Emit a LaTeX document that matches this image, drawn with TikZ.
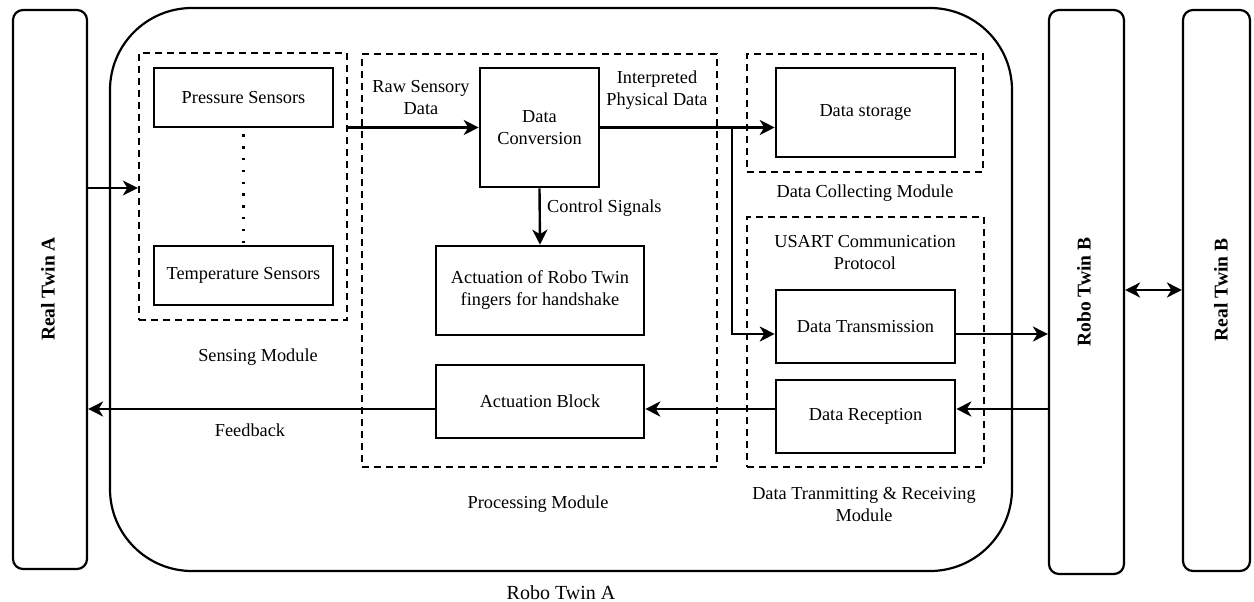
\documentclass[tikz,border=0pt]{standalone}
\usepackage{fontspec}
\setmainfont{Liberation Serif}
\usetikzlibrary{arrows.meta,calc}
\begin{document}
\begin{tikzpicture}[x=1pt,y=-1pt,
  txt/.style={font=\fontsize{18.3}{22}\selectfont, align=center, inner sep=0pt},
  bigtxt/.style={font=\fontsize{20}{24}\selectfont, inner sep=0pt},
  sidetxt/.style={font=\bfseries\fontsize{19.5}{23}\selectfont, rotate=90, inner sep=0pt},
  blk/.style={draw, line width=2.6pt, minimum width=179pt, inner sep=0pt, txt},
  side/.style={draw, line width=2.2pt, rounded corners=10pt, inner sep=0pt},
  module/.style={draw, line width=2.3pt, dash pattern=on 7pt off 5pt},
  tip/.style={},
  arr/.style={line width=2.4pt, -{Stealth[length=15pt,width=15pt,inset=4.5pt]}},
  darr/.style={line width=2.4pt, {Stealth[length=15pt,width=15pt,inset=4.5pt]}-{Stealth[length=15pt,width=15pt,inset=4.5pt]}}
]
\useasboundingbox (0,0) rectangle (1254,602);

% outer frames
\node[side, minimum width=74pt, minimum height=559pt] (realA) at (50,289.5) {};
\node[draw, line width=2.2pt, rounded corners=82pt, minimum width=902pt, minimum height=563pt, inner sep=0pt] (roboA) at (561,289.5) {};
\node[side, minimum width=75pt, minimum height=564pt] (roboB) at (1086.5,292) {};
\node[side, minimum width=67pt, minimum height=561pt] (realB) at (1216.5,290.5) {};

\node[sidetxt] (realAlab) at (48,289) {Real Twin A};
\node[sidetxt] (roboBlab) at (1084,292) {Robo Twin B};
\node[sidetxt] (realBlab) at (1221,290) {Real Twin B};
\node[bigtxt] (roboAlab) at (561,593) {Robo Twin A};

% module frames
\node[module, minimum width=208pt, minimum height=267pt, inner sep=0pt] (sensing) at (243,186.5) {};
\node[module, minimum width=355pt, minimum height=413pt, inner sep=0pt] (processing) at (539.5,260.5) {};
\node[module, minimum width=236pt, minimum height=118pt, inner sep=0pt] (collecting) at (865,113) {};
\node[module, minimum width=237pt, minimum height=250pt, inner sep=0pt] (transrec) at (865.5,342) {};

% blocks
\node[blk, minimum height=59pt] (pressure) at (243.5,97.5) {Pressure Sensors};
\node[blk, minimum height=59pt] (temp) at (243.5,275.5) {Temperature Sensors};
\node[blk, minimum width=119pt, minimum height=119pt] (conv) at (539.5,127.5) {Data\\Conversion};
\node[blk, minimum width=208pt, minimum height=89pt] (act) at (540,290.5) {Actuation of Robo Twin\\fingers for handshake};
\node[blk, minimum width=208pt, minimum height=73pt] (actblock) at (540,401.5) {Actuation Block};
\node[blk, minimum height=89pt] (storage) at (865.5,112.5) {Data storage};
\node[blk, minimum height=73pt] (trans) at (865.5,326.5) {Data Transmission};
\node[blk, minimum height=73pt] (recep) at (865.5,416.5) {Data Reception};

% labels
\node[txt] (rawlab) at (421,98) {Raw Sensory\\Data};
\node[txt] (interplab) at (657,90) {Interpreted\\Physical Data};
\node[txt, anchor=west] (ctrllab) at (547,208) {Control Signals};
\node[txt] (senslab) at (258,357) {Sensing Module};
\node[txt] (fblab) at (250,430) {Feedback};
\node[txt] (proclab) at (538,504) {Processing Module};
\node[txt] (colllab) at (865,193) {Data Collecting Module};
\node[txt] (usartlab) at (865,253) {USART Communication\\Protocol};
\node[txt] (trlab) at (864,505) {Data Tranmitting \& Receiving\\Module};

% helper coordinates
\coordinate (yin) at (0,188);
\coordinate (ytx) at (0,334);
\coordinate (yrx) at (0,409);
\coordinate (ylink) at (0,290);
\coordinate (branch) at (732,128);

% connectors
\draw[arr] (realA.east |- yin) -- (sensing.west |- yin);
\draw[arr] (sensing.east |- conv.west) -- (conv.west);
\draw[arr] (conv.east) -- (storage.west |- conv.east);
\draw[arr] (branch) |- (trans.west |- ytx);
\draw[arr] (trans.east |- ytx) -- (roboB.west |- ytx);
\draw[darr] (roboB.east |- ylink) -- (realB.west |- ylink);
\draw[arr] (roboB.west |- yrx) -- (recep.east |- yrx);
\draw[arr] (recep.west |- yrx) -- (actblock.east |- yrx);
\draw[arr] (actblock.west |- yrx) -- (realA.east |- yrx);
\draw[arr] (conv.south) -- (act.north);
\draw[line width=2.4pt, dash pattern=on 2.4pt off 9.4pt] (pressure.south) ++(0,6) -- (temp.north);

\end{tikzpicture}
\end{document}
